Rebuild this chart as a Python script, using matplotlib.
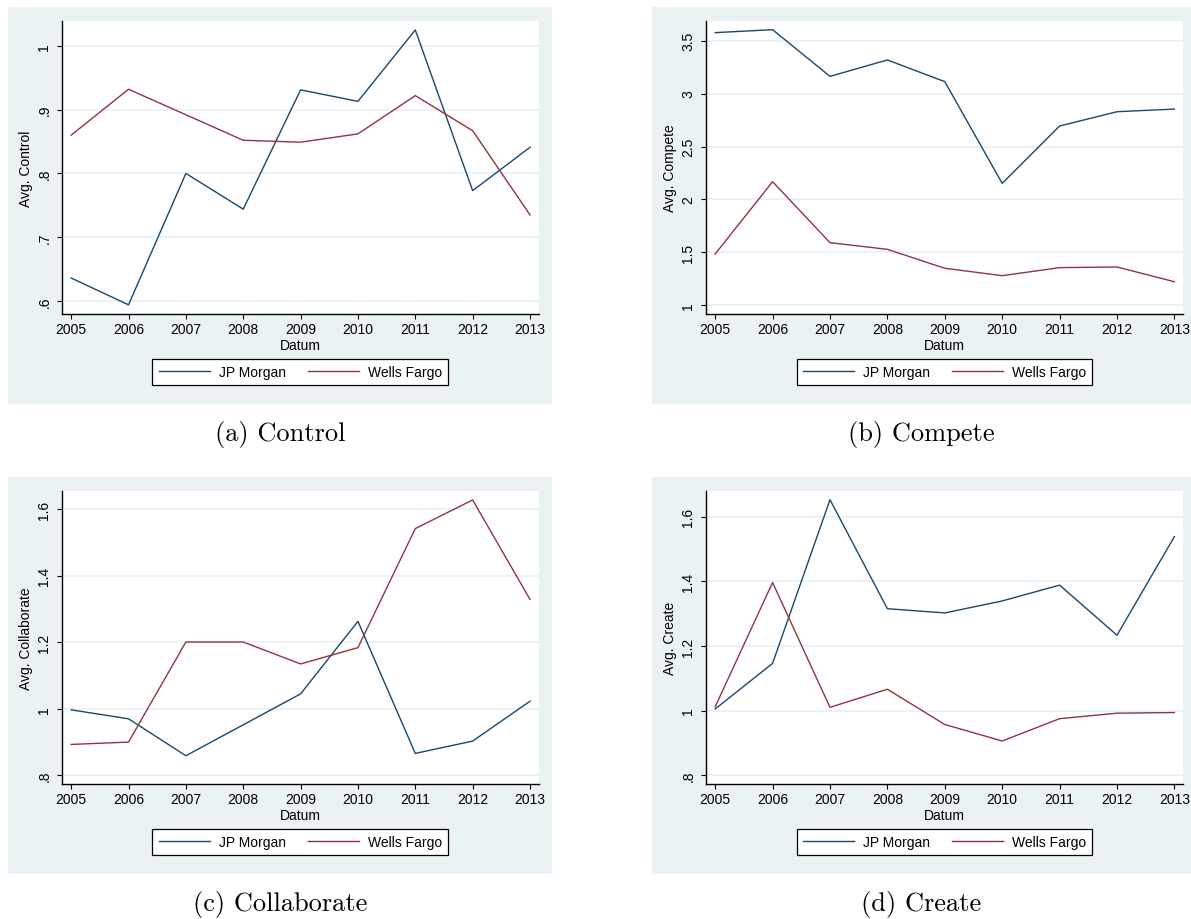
import matplotlib.pyplot as plt
from matplotlib.patches import Rectangle

plt.rcParams['font.family'] = ['Liberation Sans', 'DejaVu Sans']

years = [2005, 2006, 2007, 2008, 2009, 2010, 2011, 2012, 2013]

control_jpm = [0.636, 0.594, 0.800, 0.744, 0.931, 0.913, 1.025, 0.773, 0.841]
control_wf = [0.860, 0.932, 0.892, 0.852, 0.849, 0.862, 0.922, 0.867, 0.735]

compete_jpm = [3.576, 3.604, 3.163, 3.318, 3.113, 2.152, 2.694, 2.829, 2.854]
compete_wf = [1.485, 2.168, 1.592, 1.529, 1.350, 1.280, 1.356, 1.362, 1.223]

collab_jpm = [0.997, 0.970, 0.859, 0.952, 1.045, 1.263, 0.866, 0.903, 1.023]
collab_wf = [0.893, 0.900, 1.201, 1.201, 1.135, 1.184, 1.542, 1.628, 1.329]

create_jpm = [1.005, 1.146, 1.652, 1.315, 1.302, 1.339, 1.388, 1.233, 1.538]
create_wf = [1.012, 1.396, 1.010, 1.066, 0.957, 0.906, 0.975, 0.992, 0.994]

series_names = ['JP Morgan', 'Wells Fargo']

BG = '#EAF2F3'
NAVY = '#1A476F'
MAROON = '#90353B'

W, H = 1191, 920
fig = plt.figure(figsize=(W / 100, H / 100), dpi=100)


def fx(x):
    return x / W


def fy(y):
    return 1 - y / H


def panel(dx, dy, ylim, yticks, ylabels, ylab, jpm, wf, caption):
    # background box (pixel coords of the top-left panel, shifted)
    bx0, bx1 = 8 + dx, (552 if dx == 0 else 1191)
    by0, by1 = 8 + dy, 405 + dy
    fig.add_artist(Rectangle((fx(bx0), fy(by1)), fx(bx1) - fx(bx0),
                             fy(by0) - fy(by1), transform=fig.transFigure,
                             facecolor=BG, edgecolor='none', zorder=-1))

    px0, px1 = (62, 538.6) if dx == 0 else (706, 1183)
    py0, py1 = 22 + dy, 315 + dy
    ax = fig.add_axes([fx(px0), fy(py1), fx(px1) - fx(px0), fy(py0) - fy(py1)])

    ax.plot(years, jpm, color=NAVY, lw=1.0, label=series_names[0])
    ax.plot(years, wf, color=MAROON, lw=1.0, label=series_names[1])

    ax.set_xlim(2004.84, 2013.15)
    ax.set_ylim(*ylim)
    ax.set_xticks(years)
    ax.set_xticklabels([str(y) for y in years])
    ax.set_yticks(yticks)
    ax.set_yticklabels(ylabels, rotation=90, va='center')
    ax.grid(axis='y', color=BG, lw=1.3)
    ax.set_axisbelow(True)

    for s in ['top', 'right']:
        ax.spines[s].set_visible(False)
    for s in ['left', 'bottom']:
        ax.spines[s].set_linewidth(1.0)
        ax.spines[s].set_color('black')

    ax.tick_params(axis='x', length=3.6, width=0.8, pad=2.2, labelsize=10)
    ax.tick_params(axis='y', length=3.6, width=0.8, pad=4, labelsize=10)
    ax.set_xlabel('Datum', fontsize=10, labelpad=1.5)
    ax.set_ylabel(ylab, fontsize=10, labelpad=3)

    cx = (px0 + px1) / 2
    ax.legend(loc='center', bbox_to_anchor=(fx(cx), fy(373 + dy)),
              bbox_transform=fig.transFigure, ncol=2, fontsize=10,
              frameon=True, fancybox=False, framealpha=1, edgecolor='black',
              handlelength=3.67, handletextpad=0.65, columnspacing=1.6,
              borderpad=0.45, borderaxespad=0)
    ax.get_legend().get_frame().set_linewidth(0.9)

    fig.text(fx((bx0 + bx1) / 2), fy(435 + dy), caption, ha='center',
             va='center', family='cmr10', size=19)


panel(0, 0, (0.5796, 1.039), [0.6, 0.7, 0.8, 0.9, 1.0],
      ['.6', '.7', '.8', '.9', '1'], 'Avg. Control',
      control_jpm, control_wf, '(a) Control')
panel(644, 0, (0.918, 3.686), [1, 1.5, 2, 2.5, 3, 3.5],
      ['1', '1.5', '2', '2.5', '3', '3.5'], 'Avg. Compete',
      compete_jpm, compete_wf, '(b) Compete')
panel(0, 470, (0.774, 1.655), [0.8, 1.0, 1.2, 1.4, 1.6],
      ['.8', '1', '1.2', '1.4', '1.6'], 'Avg. Collaborate',
      collab_jpm, collab_wf, '(c) Collaborate')
panel(644, 470, (0.773, 1.679), [0.8, 1.0, 1.2, 1.4, 1.6],
      ['.8', '1', '1.2', '1.4', '1.6'], 'Avg. Create',
      create_jpm, create_wf, '(d) Create')

fig.savefig('out.png', dpi=100)
